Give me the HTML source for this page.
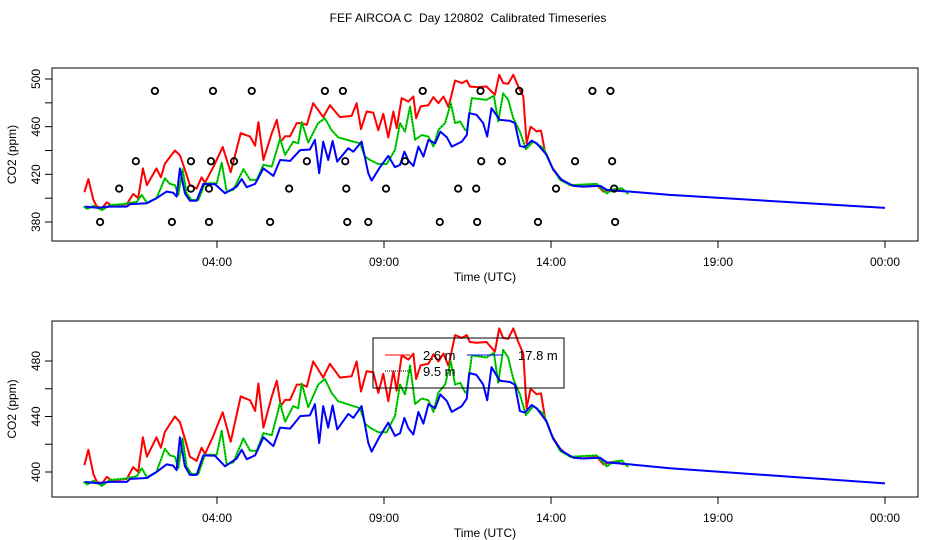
<!DOCTYPE html>
<html><head><meta charset="utf-8">
<style>
html,body{margin:0;padding:0;background:#fff;}
svg{display:block;font-family:"Liberation Sans",sans-serif;}
</style></head>
<body>
<svg id="chart" width="936" height="540" viewBox="0 0 936 540">
<text x="468" y="22" text-anchor="middle" font-size="12" style="white-space:pre" xml:space="preserve">FEF AIRCOA C  Day 120802  Calibrated Timeseries</text>
<g id="top"></g>
<g id="bottom"></g>
</svg>
<script>
const redT=[0.03,0.15,0.30,0.40,0.55,0.70,0.85,1.30,1.49,1.64,1.78,1.90,2.19,2.32,2.44,2.74,2.89,3.04,3.19,3.39,3.54,3.64,3.89,4.17,4.41,4.71,4.99,5.14,5.24,5.39,5.64,5.79,5.91,6.04,6.19,6.39,6.54,6.69,6.88,7.18,7.38,7.68,8.03,8.18,8.31,8.48,8.68,8.83,8.98,9.13,9.28,9.38,9.53,9.73,9.88,9.96,10.10,10.33,10.48,10.63,10.78,10.93,11.13,11.33,11.48,11.57,11.77,12.07,12.32,12.45,12.57,12.72,12.87,13.02,13.17,13.27,13.39,13.57,13.70,13.82,14.02,14.27,14.57,14.97,15.37,15.57,15.77,15.97,16.17];
const redV=[405,416,398.5,393,391.5,396.5,393.7,395,403.5,400,425,411,425,417.5,429,440,436,424,411,408,417.5,413,426,443,421.8,454.5,451.7,444,463.8,432,454.5,465.7,447.5,452,452,463,463,461.5,479.7,468,478,468,469,479.7,458,472.7,471.8,457,470.8,451,472.7,458.7,484,481,485.3,467,477,478,484.8,479.7,485.3,476.4,498.7,496.6,498.7,493.7,493.2,493.7,486.7,503.5,496.6,496,503.5,493.7,485.3,446,460,456,456.7,439,426.5,416.7,411,409.7,411,405.5,407,407.5,405.5];
const greenT=[0.0,0.12,0.30,0.55,0.80,1.19,1.60,1.75,1.90,2.19,2.44,2.59,2.74,2.84,2.97,3.09,3.24,3.44,3.64,3.99,4.14,4.29,4.49,4.79,4.99,5.19,5.39,5.64,5.89,6.04,6.28,6.43,6.54,6.73,7.03,7.23,7.43,7.63,8.08,8.28,8.43,8.58,8.83,9.08,9.33,9.48,9.63,9.78,9.93,10.13,10.33,10.48,10.63,10.83,11.00,11.13,11.28,11.43,11.48,11.63,12.07,12.29,12.42,12.57,12.72,12.87,13.07,13.25,13.47,13.77,14.02,14.27,14.57,15.37,15.67,15.87,16.12,16.31];
const greenV=[393,391,393.7,390,394.3,395,397,402.7,396.2,400,416.7,412,411,402.7,424.3,404,398.5,398.5,412.5,412.5,429.8,405.5,407,424.3,415.3,415.3,428,426.5,449.7,436.3,447.5,446,463.8,446.6,463,467,457,451,447.5,446,434.9,432,428.7,428.7,440.5,463,455.9,476.9,449,453,451.7,443.3,457.3,463,479.7,463,464.3,457.3,456.7,484,482.5,485.9,464.3,488,482.5,467,455.9,441,447.5,442,426.5,415.3,411,412,404,407.5,408.3,403.5];
const blueT=[0.05,0.40,0.80,1.30,1.40,1.90,2.19,2.49,2.69,2.79,2.89,3.04,3.19,3.39,3.59,3.94,4.24,4.59,4.74,4.89,5.14,5.39,5.69,5.89,6.19,6.49,6.78,6.93,7.06,7.18,7.33,7.46,7.60,7.93,8.08,8.33,8.53,8.63,8.88,9.13,9.33,9.48,9.61,9.73,9.88,10.03,10.18,10.33,10.53,10.69,10.88,11.03,11.33,11.48,11.55,11.77,11.97,12.09,12.22,12.47,12.77,12.92,13.07,13.22,13.42,13.57,13.87,14.07,14.32,14.67,14.97,15.47,15.67,15.97,16.37,17.56,24.0];
const blueV=[392.9,392,392.9,392.9,395,395.7,400,405.5,404.6,401.3,425,404.1,397.9,397.9,412,411.7,404.1,409.7,416.1,409.2,412,425,418.7,432,431.3,440.3,440.8,448.9,420.9,447.5,432,448,430.7,441.9,439,447.5,420.9,414.7,426,435.5,426,427.9,439,431.5,427,443.3,434.9,448.9,446,455.9,451.2,443.3,447.5,453,471.3,470,463,451.7,475.5,465.7,464.9,463,443.9,442.8,448.3,446,436.3,423.7,415.3,410.3,409.7,410.3,406.9,406.3,405.5,402.7,391.8];
const calT=[2.14,3.88,5.04,7.23,7.77,10.16,11.89,13.05,15.24,15.78,1.57,3.22,3.82,4.51,6.69,7.84,9.63,11.91,12.53,14.72,15.83,1.07,3.22,3.76,6.16,7.87,9.06,11.22,11.76,14.15,15.89,0.50,2.65,3.76,5.59,7.90,8.53,10.67,11.79,13.61,15.92];
const calV=[490,490,490,490,490,490,490,490,490,490,431,431,431,431,431,431,431,431,431,431,431,408,408,408,408,408,408,408,408,408,408,380,380,380,380,380,380,380,380,380,380];
const xTickHours=[4,9,14,19,24];
const xTickLabels=["04:00","09:00","14:00","19:00","00:00"];
const topYTicks=[380,400,420,440,460,480,500];
const topYLabels=[380,420,460,500];
const botYTicks=[400,420,440,460,480];
const botYLabels=[400,440,480];
const NS="http://www.w3.org/2000/svg";
function mk(tag,attrs,parent){const e=document.createElementNS(NS,tag);for(const k in attrs)e.setAttribute(k,attrs[k]);parent.appendChild(e);return e;}
const xScale=h=>83.4+h*33.4;
function panel(g,box,yv0,yp0,yv1,yp1,yTicks,yLabels,showCal,showLegend,pfx){
  const yScale=v=>yp0+(v-yv0)*(yp1-yp0)/(yv1-yv0);
  const clip=mk('clipPath',{id:'c'+pfx},g);mk('rect',{x:box.x,y:box.y,width:box.w,height:box.h},clip);
  const frame=mk('rect',{x:box.x,y:box.y,width:box.w,height:box.h,fill:'none',stroke:'#000','stroke-width':1},g);
  
  
  xTickHours.forEach((h,i)=>{
    const x=xScale(h);
    const t=mk('line',{x1:x,x2:x,y1:box.y+box.h,y2:box.y+box.h+7,stroke:'#000'},g);
    
    
    const l=mk('text',{x:x,y:box.y+box.h+25,'text-anchor':'middle','font-size':12},g);l.textContent=xTickLabels[i];
    
    
  });
  const xt=mk('text',{x:485,y:box.y+box.h+40,'text-anchor':'middle','font-size':12},g);xt.textContent='Time (UTC)';
  
  
  yTicks.forEach(v=>{
    const y=yScale(v);
    const t=mk('line',{x1:box.x-7,x2:box.x,y1:y,y2:y,stroke:'#000'},g);
    
    
  });
  yLabels.forEach(v=>{
    const y=yScale(v);
    const l=mk('text',{x:0,y:0,'text-anchor':'middle','font-size':12,transform:`translate(${box.x-12},${y}) rotate(-90)`},g);l.textContent=v;
    
    
  });
  const yt=mk('text',{x:0,y:0,'text-anchor':'middle','font-size':12,transform:`translate(16,${box.y+box.h/2}) rotate(-90)`},g);yt.textContent='CO2 (ppm)';
  
  
  const cg=mk('g',{'clip-path':`url(#c${pfx})`},g);
  const series=[[redT,redV,'#ff0000','red-2-6m'],[greenT,greenV,'#00dd00','green-9-5m'],[blueT,blueV,'#0000ff','blue-17-8m']];
  series.forEach(s=>{
    const pts=s[0].map((t,i)=>xScale(t).toFixed(1)+','+yScale(s[1][i]).toFixed(1)).join(' ');
    const p=mk('polyline',{points:pts,fill:'none',stroke:s[2],'stroke-width':2,'stroke-linejoin':'round'},cg);
    
    
    if(s[3]==='green-9-5m'){mk('polyline',{points:pts,fill:'none',stroke:'#000','stroke-width':0.6,'stroke-dasharray':'1 2'},cg);}
  });
  if(showCal){
    calT.forEach((t,i)=>{
      const c=mk('circle',{cx:xScale(t),cy:yScale(calV[i]),r:3.2,fill:'none',stroke:'#000','stroke-width':1.8},g);
      
      
    });
  }
  if(showLegend){
    const lg=mk('g',{},g);
    
    
    mk('rect',{x:373,y:338,width:191,height:50,fill:'none',stroke:'#000'},lg);
    const ents=[[385,410,355,'#ff0000','2.6 m',423],[385,410,371,'#000','9.5 m',423],[467,503,355,'#0000ff','17.8 m',518]];
    ents.forEach(e=>{
      const eg=mk('g',{},lg);
      
      
      mk('line',{x1:e[0],x2:e[1],y1:e[2],y2:e[2],stroke:e[3],'stroke-dasharray':e[4]==='9.5 m'?'1 1':'none'},eg);
      const tx=mk('text',{x:e[5],y:e[2]+5,'font-size':13},eg);tx.textContent=e[4];
    });
  }
}
panel(document.getElementById('top'),{x:52,y:68,w:866,h:173},380,222,500,79,topYTicks,topYLabels,true,false,'top');
panel(document.getElementById('bottom'),{x:52,y:321,w:866,h:176},400,472,480,361,botYTicks,botYLabels,false,true,'bottom');
</script>
</body></html>
